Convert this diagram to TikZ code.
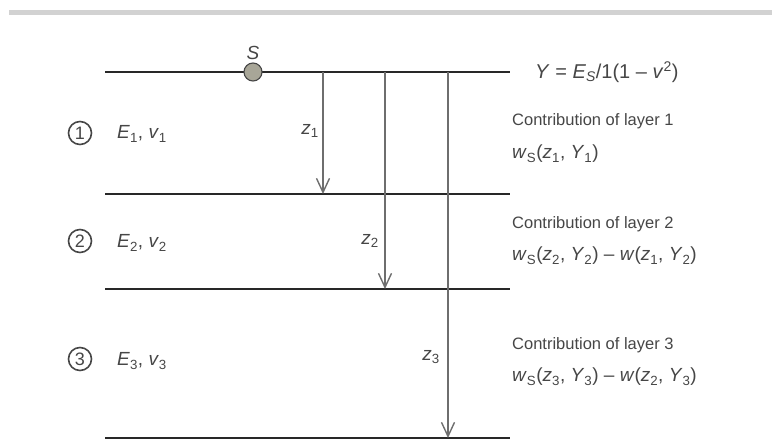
\documentclass[tikz,border=0pt]{standalone}
\usepackage{fontspec}
\setmainfont{Liberation Sans}
\usetikzlibrary{arrows.meta, positioning}
\definecolor{inkgray}{RGB}{70,70,70}
\definecolor{linedark}{RGB}{40,40,40}
\definecolor{arrowgray}{RGB}{110,110,110}
\definecolor{sourcefill}{RGB}{168,166,152}
\definecolor{bandgray}{RGB}{210,210,210}
\newcommand{\lo}[1]{\textsubscript{#1}}
\newcommand{\hi}[1]{\textsuperscript{#1}}

\begin{document}
\begin{tikzpicture}[
    x=1pt, y=-1pt,
    layer/.style={draw=linedark, line width=2.8pt},
    depth/.style={draw=arrowgray, line width=1.6pt,
      -{Straight Barb[length=14pt, width=13pt, line width=1.4pt]}},
    source/.style={circle, fill=sourcefill, draw=inkgray, line width=1.1pt,
      minimum size=18pt, inner sep=0pt},
    num/.style={circle, draw=inkgray, line width=1.6pt, text=inkgray,
      minimum size=23pt, inner sep=0pt, font=\fontsize{18}{20}\selectfont},
    lbl/.style={text=inkgray, inner sep=1pt, font=\fontsize{19}{22}\selectfont},
    note/.style={text=inkgray, inner sep=0pt, anchor=west,
      font=\fontsize{16.5}{20}\selectfont},
    formula/.style={note, font=\fontsize{19}{22}\selectfont},
    node distance=6pt,
  ]
  \useasboundingbox (0,0) rectangle (772,443);
  \fill[bandgray] (9,10) rectangle (772,15);

  % layer boundaries
  \foreach \n/\y in {0/72, 1/194, 2/289, 3/438}
    \draw[layer] (105,\y) coordinate (w\n) -- (510,\y) coordinate (e\n);

  % source point
  \node[source] (src) at (253,72) {};
  \node[lbl, above=2pt of src] (slbl) {\textit{S}};

  % depths
  \foreach \i/\x/\y in {1/323/194, 2/385/289, 3/448/438} {
    \coordinate (z\i top) at (\x,72);
    \coordinate (z\i bot) at (\x,\y);
    \draw[depth] (z\i top) -- (z\i bot);
  }
  \node[lbl] (z1lbl) at (310,131) {\textit{z}\lo{1}};
  \node[lbl] (z2lbl) at (370,241) {\textit{z}\lo{2}};
  \node[lbl] (z3lbl) at (431,357) {\textit{z}\lo{3}};

  % layers and moduli
  \node[num] (n1) at (80,133) {1};
  \node[num] (n2) at (80,241) {2};
  \node[num] (n3) at (80,359) {3};
  \node[lbl, anchor=west] (m1) at (116,134) {\textit{E}\lo{1}, \textit{v}\lo{1}};
  \node[lbl, anchor=west] (m2) at (116,243) {\textit{E}\lo{2}, \textit{v}\lo{2}};
  \node[lbl, anchor=west] (m3) at (116,361) {\textit{E}\lo{3}, \textit{v}\lo{3}};

  % right hand notes
  \node[formula, font=\fontsize{20}{22}\selectfont] (ytop) at (535,72) {\textit{Y} = \textit{E}\lo{\textit{S}}/1(1 -- \textit{v}\hi{2})};
  \node[note] (c1) at (512,121) {Contribution of layer 1};
  \node[formula] (f1) at (512,154) {\textit{w}\lo{S}(\textit{z}\lo{1}, \textit{Y}\lo{1})};
  \node[note] (c2) at (512,224) {Contribution of layer 2};
  \node[formula] (f2) at (512,256) {\textit{w}\lo{S}(\textit{z}\lo{2}, \textit{Y}\lo{2}) -- \textit{w}(\textit{z}\lo{1}, \textit{Y}\lo{2})};
  \node[note] (c3) at (512,345) {Contribution of layer 3};
  \node[formula] (f3) at (512,377) {\textit{w}\lo{S}(\textit{z}\lo{3}, \textit{Y}\lo{3}) -- \textit{w}(\textit{z}\lo{2}, \textit{Y}\lo{3})};
\end{tikzpicture}
\end{document}
